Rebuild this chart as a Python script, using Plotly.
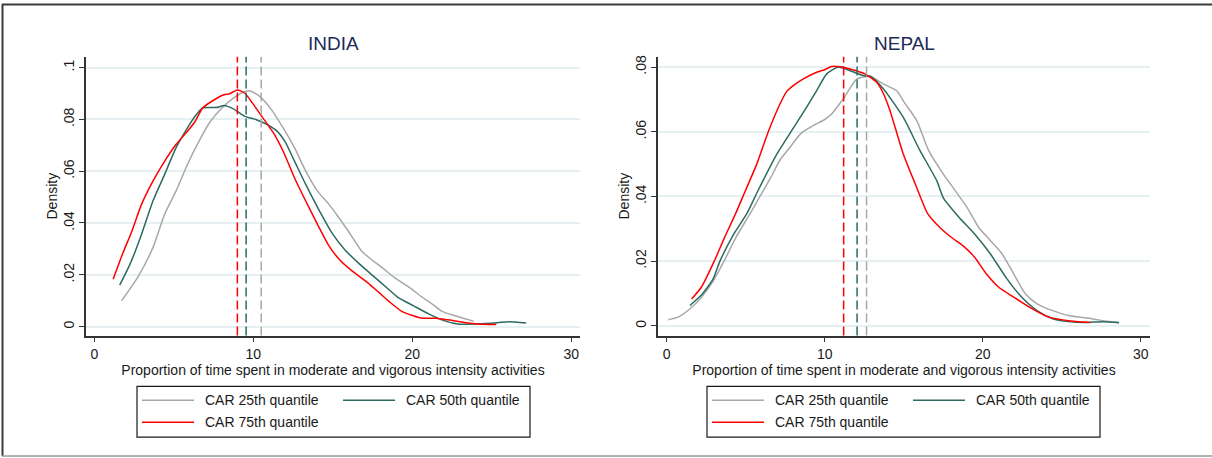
import plotly.graph_objects as go

# ---------------- data ----------------
series_names = ["CAR 25th quantile", "CAR 50th quantile", "CAR 75th quantile"]
panel_titles = ["INDIA", "NEPAL"]
x_axis_title = "Proportion of time spent in moderate and vigorous intensity activities"
y_axis_title = "Density"

india_x_25 = [1.72, 2.73, 3.69, 4.42, 5.14, 5.86, 6.58, 7.30, 8.03, 8.75, 9.47, 9.83, 10.43, 11.15, 11.88,
              12.6, 13.3, 14.04, 14.76, 15.24, 15.97, 16.81, 17.41, 18.1, 18.86, 19.82, 20.5, 21.26, 21.87,
              22.7, 23.86]
india_y_25 = [0.0100, 0.0190, 0.0305, 0.0433, 0.0523, 0.0626, 0.0715, 0.0792, 0.0844, 0.0882, 0.0908,
              0.0910, 0.0888, 0.0837, 0.0767, 0.0690, 0.0600, 0.0523, 0.0472, 0.0433, 0.0369, 0.0292,
              0.0260, 0.0228, 0.0190, 0.0151, 0.0119, 0.0087, 0.0059, 0.0042, 0.0021]

india_x_50 = [1.60, 2.25, 2.97, 3.69, 4.42, 5.14, 5.86, 6.34, 6.82, 7.43, 7.79, 8.15, 8.75, 9.47, 10.19,
              10.91, 11.51, 11.99, 12.6, 13.3, 14.17, 15.01, 15.73, 16.69, 17.65, 18.38, 19.1, 20.06,
              21.03, 21.99, 22.95, 24.0, 25.36, 26.08, 27.16]
india_y_50 = [0.0160, 0.0241, 0.0356, 0.0485, 0.0587, 0.0690, 0.0767, 0.0812, 0.0844, 0.0846, 0.0847,
              0.0854, 0.0841, 0.0812, 0.0799, 0.0779, 0.0754, 0.0715, 0.0638, 0.0549, 0.0446, 0.0356,
              0.0299, 0.0241, 0.0190, 0.0151, 0.0113, 0.0081, 0.0049, 0.0023, 0.0009, 0.0010, 0.0015,
              0.0019, 0.0014]

india_x_75 = [1.19, 1.77, 2.37, 2.97, 3.69, 4.42, 5.14, 5.86, 6.34, 6.82, 7.55, 8.15, 8.51, 8.99, 9.47,
              9.95, 10.68, 11.28, 11.88, 12.6, 13.3, 14.04, 14.76, 15.49, 16.21, 17.17, 17.9, 18.6, 19.34,
              20.06, 20.54, 21.5, 22.23, 23.19, 24.15, 25.28]
india_y_75 = [0.0183, 0.0279, 0.0369, 0.0472, 0.0562, 0.0638, 0.0703, 0.0754, 0.0792, 0.0844, 0.0876,
              0.0895, 0.0899, 0.0914, 0.0901, 0.0863, 0.0799, 0.0747, 0.0677, 0.0574, 0.0485, 0.0395,
              0.0312, 0.0254, 0.0215, 0.0171, 0.0132, 0.0094, 0.0059, 0.0042, 0.0033, 0.0032, 0.0026,
              0.0017, 0.0010, 0.0008]

nepal_x_25 = [0.10, 0.72, 1.46, 2.2, 2.94, 3.63, 4.4, 5.27, 5.9, 6.6, 7.2, 7.8, 8.5, 9.3, 10.0, 10.44,
              11.18, 12.03, 12.87, 13.71, 14.56, 15.05, 15.82, 16.6, 17.5, 18.26, 19.0, 19.74, 20.48,
              21.22, 21.96, 22.7, 23.44, 24.43, 25.42, 26.9, 27.88, 28.63]
nepal_y_25 = [0.0019, 0.0027, 0.0052, 0.0088, 0.0138, 0.0200, 0.0275, 0.0346, 0.0400, 0.0460, 0.0515,
              0.0552, 0.0595, 0.0620, 0.0638, 0.0655, 0.0702, 0.0763, 0.0771, 0.0748, 0.0727, 0.0690,
              0.0635, 0.0540, 0.0470, 0.0418, 0.0367, 0.0305, 0.0264, 0.0223, 0.0161, 0.0099, 0.0068,
              0.0047, 0.0032, 0.0022, 0.0014, 0.0009]

nepal_x_50 = [1.47, 2.2, 2.94, 3.37, 4.2, 5.06, 5.8, 6.96, 7.8, 8.86, 9.5, 10.13, 10.86, 11.6, 12.44,
              12.9, 13.71, 14.97, 16.0, 17.09, 17.52, 18.5, 19.49, 20.48, 21.47, 22.46, 23.44, 24.43,
              25.42, 26.41, 27.64, 28.63]
nepal_y_50 = [0.0063, 0.0095, 0.0145, 0.0200, 0.0280, 0.0346, 0.0420, 0.0530, 0.0595, 0.0676, 0.0728,
              0.0779, 0.0800, 0.0789, 0.0774, 0.0772, 0.0733, 0.0645, 0.0545, 0.0449, 0.0395, 0.0336,
              0.0284, 0.0223, 0.0150, 0.0089, 0.0047, 0.0022, 0.0013, 0.0010, 0.0013, 0.0010]

nepal_x_75 = [1.58, 2.2, 3.01, 3.68, 4.39, 5.0, 5.7, 6.43, 7.17, 7.6, 8.01, 8.6, 9.49, 10.0, 10.44, 11.0,
              11.6, 12.55, 13.29, 13.7, 14.13, 14.97, 15.82, 16.53, 17.27, 18.01, 18.75, 19.49, 20.23,
              21.0, 21.96, 22.95, 24.19, 25.42, 26.78]
nepal_y_75 = [0.0083, 0.0120, 0.0200, 0.0275, 0.0350, 0.0420, 0.0500, 0.0600, 0.0686, 0.0725, 0.0743,
              0.0762, 0.0784, 0.0792, 0.0802, 0.0801, 0.0794, 0.0779, 0.0753, 0.0720, 0.0666, 0.0532,
              0.0428, 0.0346, 0.0305, 0.0274, 0.0248, 0.0212, 0.0161, 0.0120, 0.0089, 0.0058, 0.0027,
              0.0016, 0.0010]

india_medians = [10.5, 9.55, 9.0]    # 25th, 50th, 75th
nepal_medians = [12.65, 12.05, 11.2]

x_tickvals = [0, 10, 20, 30]
india_y_tickvals = [0, 0.02, 0.04, 0.06, 0.08, 0.1]
india_y_ticktext = ["0", ".02", ".04", ".06", ".08", ".1"]
nepal_y_tickvals = [0, 0.02, 0.04, 0.06, 0.08]
nepal_y_ticktext = ["0", ".02", ".04", ".06", ".08"]

# ---------------- style ----------------
W, H = 1212, 458
COLORS = ["#a8a8a8", "#2c6b62", "#ff0000"]
FONT = "Liberation Sans, Arial, sans-serif"
TXT = "#1a1a1a"
FS = 14

def px_x(p):
    return p / W

def px_y(p):
    return 1 - p / H

panels = [
    dict(title=panel_titles[0], xs=[india_x_25, india_x_50, india_x_75],
         ys=[india_y_25, india_y_50, india_y_75], med=india_medians,
         dom=(86, 580), yr=[-0.00346, 0.1042], xr=[-0.52, 30.55],
         tv=india_y_tickvals, tt=india_y_ticktext, legx=137),
    dict(title=panel_titles[1], xs=[nepal_x_25, nepal_x_50, nepal_x_75],
         ys=[nepal_y_25, nepal_y_50, nepal_y_75], med=nepal_medians,
         dom=(658, 1150), yr=[-0.0030, 0.0832], xr=[-0.55, 30.59],
         tv=nepal_y_tickvals, tt=nepal_y_ticktext, legx=707),
]

top_px, bot_px = 55, 335

fig = go.Figure()
shapes = []
annotations = []

for i, p in enumerate(panels):
    n = "" if i == 0 else str(i + 1)
    xa, ya = "x" + n, "y" + n
    for k in range(3):
        fig.add_trace(go.Scatter(x=p["xs"][k], y=p["ys"][k], mode="lines", name=series_names[k],
                                 line=dict(color=COLORS[k], width=1.5, shape="spline", smoothing=0.6),
                                 xaxis=xa, yaxis=ya, showlegend=False, hoverinfo="skip"))
    for k in range(3):
        shapes.append(dict(type="line", xref=xa, yref=ya + " domain", x0=p["med"][k], x1=p["med"][k],
                           y0=0, y1=1, line=dict(color=COLORS[k], width=1.5, dash="9px,4px")))
    common_x = dict(domain=[px_x(p["dom"][0]), px_x(p["dom"][1])], range=p["xr"],
                    tickvals=x_tickvals, showgrid=False, zeroline=False, showline=True,
                    linecolor="#333333", linewidth=1.5, ticks="outside", ticklen=5,
                    tickcolor="#333333", tickwidth=1.2,
                    tickfont=dict(family=FONT, size=FS, color=TXT),
                    title=dict(text=x_axis_title, font=dict(family=FONT, size=FS, color=TXT), standoff=0),
                    anchor=ya)
    common_y = dict(domain=[px_y(bot_px), px_y(top_px)], range=p["yr"], tickvals=p["tv"],
                    ticktext=p["tt"], tickangle=-90, showgrid=True, gridcolor="#e6eff1", gridwidth=1.5,
                    zeroline=False, showline=True, linecolor="#333333", linewidth=1.5,
                    ticks="outside", ticklen=5, tickcolor="#333333", tickwidth=1.2,
                    tickfont=dict(family=FONT, size=FS, color=TXT),
                    title=dict(text=y_axis_title, font=dict(family=FONT, size=FS, color=TXT), standoff=0),
                    anchor=xa)
    fig.update_layout(**{"xaxis" + n: common_x, "yaxis" + n: common_y})

    # panel title
    annotations.append(dict(text=p["title"], xref=xa + " domain", yref="paper", x=0.5, y=px_y(42),
                            xanchor="center", yanchor="middle", showarrow=False,
                            font=dict(family=FONT, size=19, color="#1c2a56")))

    # legend box
    lx = p["legx"]
    shapes.append(dict(type="rect", xref="paper", yref="paper", x0=px_x(lx), x1=px_x(lx + 393),
                       y0=px_y(437), y1=px_y(386), line=dict(color="#1a1a1a", width=1.2),
                       fillcolor="white"))
    entries = [(0, lx + 5, 400), (1, lx + 206, 400), (2, lx + 5, 422)]
    for k, ex, ey in entries:
        shapes.append(dict(type="line", xref="paper", yref="paper", x0=px_x(ex), x1=px_x(ex + 52),
                           y0=px_y(ey), y1=px_y(ey), line=dict(color=COLORS[k], width=1.5)))
        annotations.append(dict(text=series_names[k], xref="paper", yref="paper", x=px_x(ex + 61),
                                y=px_y(ey), xanchor="left", yanchor="middle", showarrow=False,
                                font=dict(family=FONT, size=FS, color=TXT)))

# outer frame
shapes.append(dict(type="line", xref="paper", yref="paper", x0=px_x(2), x1=px_x(1212),
                   y0=px_y(2.5), y1=px_y(2.5), line=dict(color="#3a3a3a", width=2)))
shapes.append(dict(type="line", xref="paper", yref="paper", x0=px_x(2.5), x1=px_x(2.5),
                   y0=px_y(2), y1=px_y(456), line=dict(color="#3a3a3a", width=2)))
shapes.append(dict(type="line", xref="paper", yref="paper", x0=px_x(2), x1=px_x(1212),
                   y0=px_y(456), y1=px_y(456), line=dict(color="#9a9a9a", width=1.5)))

fig.update_layout(width=W, height=H, margin=dict(l=0, r=0, t=0, b=0),
                  paper_bgcolor="white", plot_bgcolor="white",
                  shapes=shapes, annotations=annotations, showlegend=False,
                  font=dict(family=FONT, size=FS, color=TXT))

fig.write_html("out.html")
